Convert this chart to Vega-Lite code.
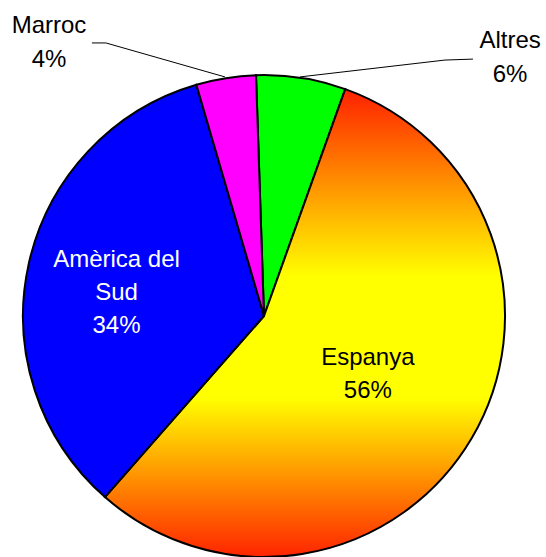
{
  "$schema": "https://vega.github.io/schema/vega-lite/v6.json",
  "width": 482,
  "height": 482,
  "padding": {"left": 23, "top": 75, "right": 41, "bottom": 0},
  "autosize": "none",
  "background": "white",
  "config": {"view": {"stroke": null}},
  "datasets": {
    "slices": [
      {"cat": "Altres", "value": 6, "ord": 1, "label": "Altres\n6%"},
      {"cat": "Espanya", "value": 56, "ord": 2, "label": "Espanya\n56%"},
      {"cat": "Amèrica del Sud", "value": 34, "ord": 3, "label": "Amèrica del\nSud\n34%"},
      {"cat": "Marroc", "value": 4, "ord": 4, "label": "Marroc\n4%"}
    ],
    "leaders": [
      {"id": "m", "k": 1, "lx": -0.714, "ly": 1.133},
      {"id": "m", "k": 2, "lx": -0.656, "ly": 1.133},
      {"id": "m", "k": 3, "lx": -0.162, "ly": 0.992},
      {"id": "a", "k": 1, "lx": 0.149, "ly": 0.992},
      {"id": "a", "k": 2, "lx": 0.751, "ly": 1.062},
      {"id": "a", "k": 3, "lx": 0.867, "ly": 1.066}
    ],
    "outlabels": [
      {"label": "Marroc\n4%", "lx": -0.892, "ly": 1.174},
      {"label": "Altres\n6%", "lx": 1.021, "ly": 1.112}
    ]
  },
  "layer": [
    {
      "data": {"name": "leaders"},
      "mark": {"type": "line", "color": "black", "strokeWidth": 1},
      "encoding": {
        "x": {"field": "lx", "type": "quantitative", "scale": {"domain": [-1, 1], "nice": false, "zero": false}, "axis": null},
        "y": {"field": "ly", "type": "quantitative", "scale": {"domain": [-1, 1], "nice": false, "zero": false}, "axis": null},
        "detail": {"field": "id"},
        "order": {"field": "k", "type": "quantitative"}
      }
    },
    {
      "data": {"name": "slices"},
      "mark": {"type": "arc", "radius": 241, "stroke": "black", "strokeWidth": 2},
      "encoding": {
        "theta": {"field": "value", "type": "quantitative", "stack": true, "scale": {"range": [-0.0332, 6.25]}},
        "order": {"field": "ord", "type": "quantitative"},
        "color": {
          "condition": {
            "test": "datum.cat === 'Espanya'",
            "value": {
              "gradient": "linear", "x1": 0, "y1": 0, "x2": 0, "y2": 1,
              "stops": [
                {"offset": 0, "color": "#ff2000"},
                {"offset": 0.4, "color": "#ffff00"},
                {"offset": 0.66, "color": "#ffff00"},
                {"offset": 1, "color": "#ff2400"}
              ]
            }
          },
          "field": "cat",
          "type": "nominal",
          "scale": {"domain": ["Altres", "Espanya", "Amèrica del Sud", "Marroc"], "range": ["#00ff00", "#ffff00", "#0000ff", "#ff00ff"]},
          "legend": null
        }
      }
    },
    {
      "data": {"name": "slices"},
      "mark": {"type": "text", "radius": 148, "dx": -3, "dy": -17, "fill": "white", "font": "Liberation Sans", "fontSize": 24, "lineBreak": "\n", "lineHeight": 33, "align": "center", "baseline": "alphabetic"},
      "encoding": {
        "theta": {"field": "value", "type": "quantitative", "stack": true},
        "order": {"field": "ord", "type": "quantitative"},
        "detail": {"field": "cat"},
        "text": {"condition": {"test": "datum.cat === 'Amèrica del Sud'", "field": "label"}, "value": ""}
      }
    },
    {
      "data": {"name": "slices"},
      "mark": {"type": "text", "radius": 124, "dx": -3, "dy": -14, "fill": "black", "font": "Liberation Sans", "fontSize": 24, "lineBreak": "\n", "lineHeight": 33, "align": "center", "baseline": "alphabetic"},
      "encoding": {
        "theta": {"field": "value", "type": "quantitative", "stack": true},
        "order": {"field": "ord", "type": "quantitative"},
        "detail": {"field": "cat"},
        "text": {"condition": {"test": "datum.cat === 'Espanya'", "field": "label"}, "value": ""}
      }
    },
    {
      "data": {"name": "outlabels"},
      "mark": {"type": "text", "fill": "black", "font": "Liberation Sans", "fontSize": 24, "lineBreak": "\n", "lineHeight": 34, "align": "center", "baseline": "alphabetic"},
      "encoding": {
        "x": {"field": "lx", "type": "quantitative"},
        "y": {"field": "ly", "type": "quantitative"},
        "text": {"field": "label"}
      }
    }
  ]
}
